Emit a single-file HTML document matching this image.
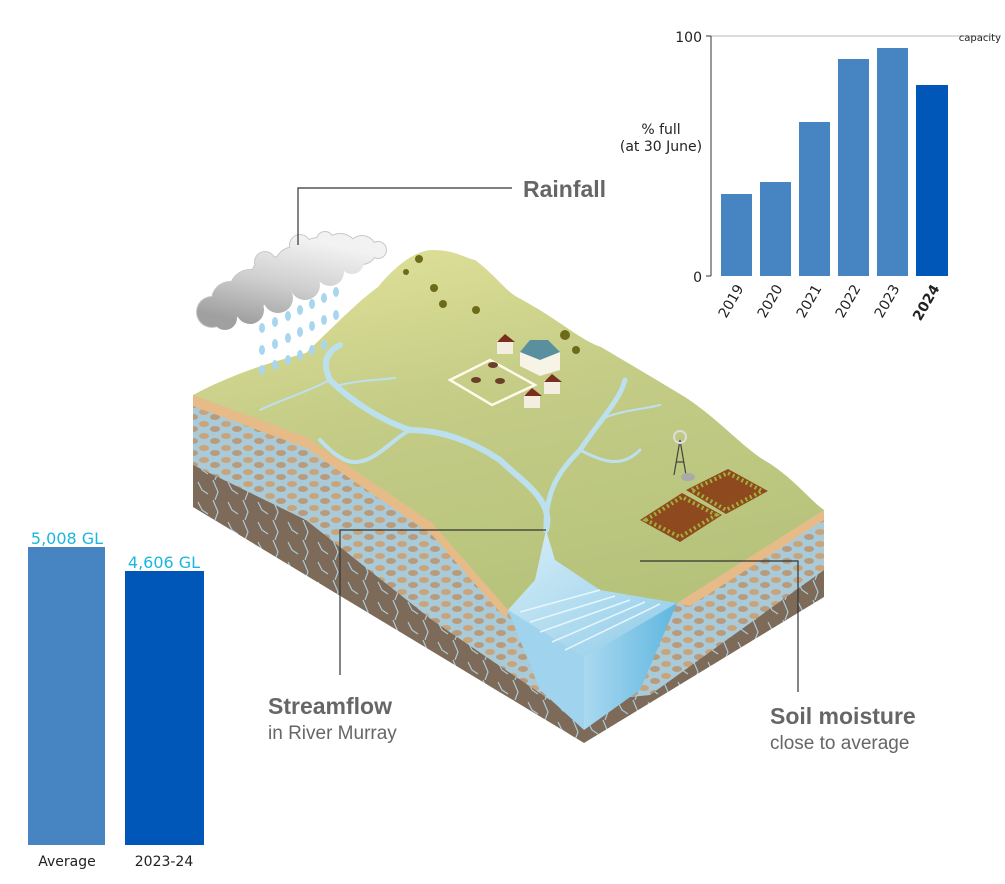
<!DOCTYPE html>
<html><head><meta charset="utf-8"><style>
html,body{margin:0;padding:0;background:#fff;}
svg{display:block;}
</style></head><body>
<svg width="1005" height="884" viewBox="0 0 1005 884" xmlns="http://www.w3.org/2000/svg">
<defs>
<linearGradient id="grass" x1="0" y1="0" x2="0.3" y2="1">
<stop offset="0" stop-color="#e2e39a"/><stop offset="0.45" stop-color="#c4cc86"/><stop offset="1" stop-color="#b5c27a"/>
</linearGradient>
<linearGradient id="cloud" gradientUnits="userSpaceOnUse" x1="300" y1="238" x2="280" y2="330">
<stop offset="0" stop-color="#f2f2f2"/><stop offset="0.5" stop-color="#d0d0d0"/><stop offset="1" stop-color="#a0a0a0"/>
</linearGradient>
<linearGradient id="water" x1="0" y1="0" x2="1" y2="1">
<stop offset="0" stop-color="#d6eef8"/><stop offset="1" stop-color="#8fcbe8"/>
</linearGradient>
<linearGradient id="wface" x1="0" y1="0" x2="1" y2="0">
<stop offset="0" stop-color="#aad9f0"/><stop offset="1" stop-color="#5fb6e0"/>
</linearGradient>
<pattern id="stones" width="22" height="12" patternUnits="userSpaceOnUse">
<rect width="22" height="12" fill="#a9cbd9"/>
<ellipse cx="6" cy="4" rx="5" ry="3" fill="#c9a47a"/>
<ellipse cx="17" cy="9" rx="5" ry="3" fill="#b89a7c"/>
</pattern>
<pattern id="rock" width="30" height="20" patternUnits="userSpaceOnUse">
<rect width="30" height="20" fill="#7d6a58"/>
<path d="M3 0 L8 12 L5 20 M18 2 L22 10 L28 14" stroke="#a9cbd9" stroke-width="1.2" fill="none"/>
</pattern>
</defs>

<!-- left face -->
<polygon points="193,395 306,437 432,523 508,610 584,660 584,743 193,507" fill="url(#rock)"/>
<polygon points="193,395 306,437 432,523 508,610 560,660 550,700 432,620 306,520 193,465" fill="url(#stones)"/>
<polygon points="193,395 306,437 432,523 508,610 505,618 432,535 306,448 193,406" fill="#e6bb88"/>
<!-- right face -->
<polygon points="584,660 677,603 824,510 824,597 584,743" fill="url(#rock)"/>
<polygon points="600,700 677,603 824,510 824,570 650,695" fill="url(#stones)"/>
<polygon points="677,603 824,510 824,520 690,606" fill="#e6bb88"/>
<!-- top surface -->
<path d="M193,395 C240,370 280,360 306,353 C340,320 360,300 378,287 C400,260 420,250 432,250 C455,250 465,258 475,260 C495,275 505,290 517,297 C560,320 580,340 601,347 C640,370 665,385 685,397 C720,420 745,450 769,463 C795,480 810,500 824,510 L677,603 L584,657 L508,610 L432,523 L306,437 Z" fill="url(#grass)"/>
<!-- water channel -->
<polygon points="508,610 535,580 546,530 555,560 600,590 677,603 584,657" fill="url(#water)"/>
<polygon points="508,610 584,657 584,730 540,690" fill="#9fd3ee"/>
<polygon points="584,657 677,603 640,690 584,730" fill="url(#wface)"/>
<g stroke="#e8f6fc" stroke-width="1.5" fill="none">
<path d="M520,612 L600,590 M530,622 L615,596 M540,632 L630,600 M552,642 L645,602 M565,650 L660,604"/>
</g>
<!-- rivers -->
<g stroke="#bde0ee" fill="none" stroke-linecap="round">
<path d="M546,530 C555,500 520,480 500,460 C470,440 440,430 410,430 C380,420 350,400 330,380 C320,360 330,350 340,345" stroke-width="6"/>
<path d="M546,530 C545,490 560,470 580,450 C600,420 620,400 625,380" stroke-width="5"/>
<path d="M410,430 C390,440 370,470 345,460 C335,455 330,450 320,440" stroke-width="4"/>
<path d="M580,450 C600,460 620,470 640,450" stroke-width="3"/>
<path d="M330,380 C300,395 280,400 260,410" stroke-width="2"/>
<path d="M340,385 C360,380 380,380 395,378" stroke-width="2"/>
<path d="M600,420 C620,410 640,410 660,405" stroke-width="2"/>
</g>
<!-- farm -->
<polygon points="450,380 490,360 535,385 492,405" fill="none" stroke="#fffbea" stroke-width="2.5"/>
<g fill="#6b3f2a"><ellipse cx="493" cy="365" rx="5" ry="3"/><ellipse cx="476" cy="380" rx="5" ry="3"/><ellipse cx="500" cy="381" rx="5" ry="3"/></g>
<polygon points="520,352 540,340 560,352 560,370 540,376 520,366" fill="#f7f3e6"/>
<polygon points="520,352 530,340 548,340 560,352 540,360" fill="#5a8fa0"/>
<g fill="#f3eee0"><rect x="497" y="340" width="16" height="14"/><rect x="544" y="380" width="16" height="14"/><rect x="524" y="394" width="16" height="14"/></g>
<g fill="#7a2f1e"><polygon points="497,342 505,334 515,342"/><polygon points="544,382 552,374 562,382"/><polygon points="524,396 532,388 542,396"/></g>
<!-- trees -->
<g fill="#6b6b1a"><circle cx="419" cy="259" r="4"/><circle cx="406" cy="272" r="3"/><circle cx="434" cy="288" r="4"/><circle cx="443" cy="304" r="4"/><circle cx="476" cy="310" r="4"/><circle cx="565" cy="335" r="5"/><circle cx="576" cy="350" r="4"/></g>
<!-- windmill & crops -->
<g stroke="#444" stroke-width="1.2" fill="none"><path d="M674,475 L680,440 L686,475 M676,462 L684,462"/></g>
<circle cx="680" cy="437" r="6" fill="none" stroke="#ddd" stroke-width="2"/>
<ellipse cx="688" cy="477" rx="7" ry="4" fill="#aaa"/>
<polygon points="640,520 682,493 722,515 680,542" fill="#8e4a1e"/>
<polygon points="686,490 728,469 768,491 726,514" fill="#8e4a1e"/>
<polygon points="646,520 682,497 716,515 680,537" fill="none" stroke="#9fb33a" stroke-width="4" stroke-dasharray="2 3"/>
<polygon points="692,490 728,473 762,491 726,510" fill="none" stroke="#9fb33a" stroke-width="4" stroke-dasharray="2 3"/>
<!-- cloud -->
<g fill="#c8c8c8">
<circle cx="212" cy="312" r="16"/><circle cx="230" cy="300" r="19"/><circle cx="250" cy="290" r="21"/><circle cx="272" cy="278" r="22"/><circle cx="295" cy="268" r="22"/><circle cx="318" cy="258" r="21"/><circle cx="340" cy="252" r="19"/><circle cx="362" cy="250" r="15"/><circle cx="378" cy="250" r="9"/>
<circle cx="300" cy="245" r="11"/><circle cx="325" cy="240" r="9"/><circle cx="265" cy="262" r="11"/>
</g>
<g fill="url(#cloud)">
<circle cx="212" cy="312" r="15"/><circle cx="230" cy="300" r="18"/><circle cx="250" cy="290" r="20"/><circle cx="272" cy="278" r="21"/><circle cx="295" cy="268" r="21"/><circle cx="318" cy="258" r="20"/><circle cx="340" cy="252" r="18"/><circle cx="362" cy="250" r="14"/><circle cx="378" cy="250" r="8"/>
<circle cx="225" cy="318" r="12"/><circle cx="250" cy="310" r="14"/><circle cx="278" cy="298" r="15"/><circle cx="305" cy="285" r="15"/><circle cx="330" cy="272" r="14"/><circle cx="352" cy="262" r="12"/>
<circle cx="300" cy="245" r="10"/><circle cx="325" cy="240" r="8"/><circle cx="265" cy="262" r="10"/>
</g>
<g fill="#a9d6ef">
<ellipse cx="262" cy="370" rx="3" ry="5"/><ellipse cx="275" cy="365" rx="3" ry="5"/><ellipse cx="288" cy="360" rx="3" ry="5"/><ellipse cx="300" cy="355" rx="3" ry="5"/><ellipse cx="312" cy="350" rx="3" ry="5"/><ellipse cx="324" cy="345" rx="3" ry="5"/>
<ellipse cx="262" cy="350" rx="3" ry="5"/><ellipse cx="275" cy="344" rx="3" ry="5"/><ellipse cx="288" cy="338" rx="3" ry="5"/><ellipse cx="300" cy="332" rx="3" ry="5"/><ellipse cx="312" cy="326" rx="3" ry="5"/><ellipse cx="324" cy="320" rx="3" ry="5"/><ellipse cx="336" cy="315" rx="3" ry="5"/>
<ellipse cx="262" cy="328" rx="3" ry="5"/><ellipse cx="275" cy="322" rx="3" ry="5"/><ellipse cx="288" cy="316" rx="3" ry="5"/><ellipse cx="300" cy="310" rx="3" ry="5"/><ellipse cx="312" cy="304" rx="3" ry="5"/><ellipse cx="324" cy="298" rx="3" ry="5"/><ellipse cx="336" cy="292" rx="3" ry="5"/>
</g>
<!-- leader lines -->
<g stroke="#333" stroke-width="1.2" fill="none">
<path d="M298,245 L298,188 L512,188"/>
<path d="M546,530 L340,530 L340,675"/>
<path d="M640,561 L798,561 L798,692"/>
</g>
<g font-family="Liberation Sans, sans-serif" fill="#666">
<text x="523" y="197" font-size="23" font-weight="bold">Rainfall</text>
<text x="268" y="714" font-size="23" font-weight="bold">Streamflow</text>
<text x="268" y="739" font-size="19">in River Murray</text>
<text x="770" y="724" font-size="23" font-weight="bold">Soil moisture</text>
<text x="770" y="749" font-size="19">close to average</text>
</g>
<!-- top-right chart -->
<line x1="711" y1="36" x2="1000" y2="36" stroke="#ddd" stroke-width="2"/>
<line x1="711" y1="36" x2="711" y2="276" stroke="#333" stroke-width="1"/>
<line x1="706" y1="36" x2="711" y2="36" stroke="#333"/><line x1="706" y1="276" x2="711" y2="276" stroke="#333"/>
<g fill="#4684c2">
<rect x="721" y="194" width="31" height="82"/><rect x="760" y="182" width="31" height="94"/><rect x="799" y="122" width="31" height="154"/><rect x="838" y="59" width="31" height="217"/><rect x="877" y="48" width="31" height="228"/>
</g>
<rect x="916" y="85" width="32" height="191" fill="#0057b8"/>
<g font-family="DejaVu Sans, sans-serif" fill="#222">
<text x="702" y="42" font-size="14" text-anchor="end">100</text>
<text x="702" y="282" font-size="14" text-anchor="end">0</text>
<text x="1001" y="41" font-size="10" text-anchor="end">capacity</text>
<text x="661" y="134" font-size="14" text-anchor="middle">% full</text>
<text x="661" y="151" font-size="14" text-anchor="middle">(at 30 June)</text>
<text transform="translate(744,288) rotate(-60)" font-size="14" text-anchor="end">2019</text>
<text transform="translate(783,288) rotate(-60)" font-size="14" text-anchor="end">2020</text>
<text transform="translate(822,288) rotate(-60)" font-size="14" text-anchor="end">2021</text>
<text transform="translate(861,288) rotate(-60)" font-size="14" text-anchor="end">2022</text>
<text transform="translate(900,288) rotate(-60)" font-size="14" text-anchor="end">2023</text>
<text transform="translate(940,288) rotate(-60)" font-size="14" text-anchor="end" font-weight="bold">2024</text>
</g>
<!-- bottom-left chart -->
<rect x="28" y="547" width="77" height="298" fill="#4684c2"/>
<rect x="125" y="571" width="79" height="274" fill="#0057b8"/>
<g font-family="DejaVu Sans, sans-serif">
<text x="67" y="544" font-size="16" fill="#1ab6e0" text-anchor="middle">5,008 GL</text>
<text x="164" y="568" font-size="16" fill="#1ab6e0" text-anchor="middle">4,606 GL</text>
<text x="67" y="866" font-size="14" fill="#222" text-anchor="middle">Average</text>
<text x="164" y="866" font-size="14" fill="#222" text-anchor="middle">2023-24</text>
</g>
</svg>
</body></html>
